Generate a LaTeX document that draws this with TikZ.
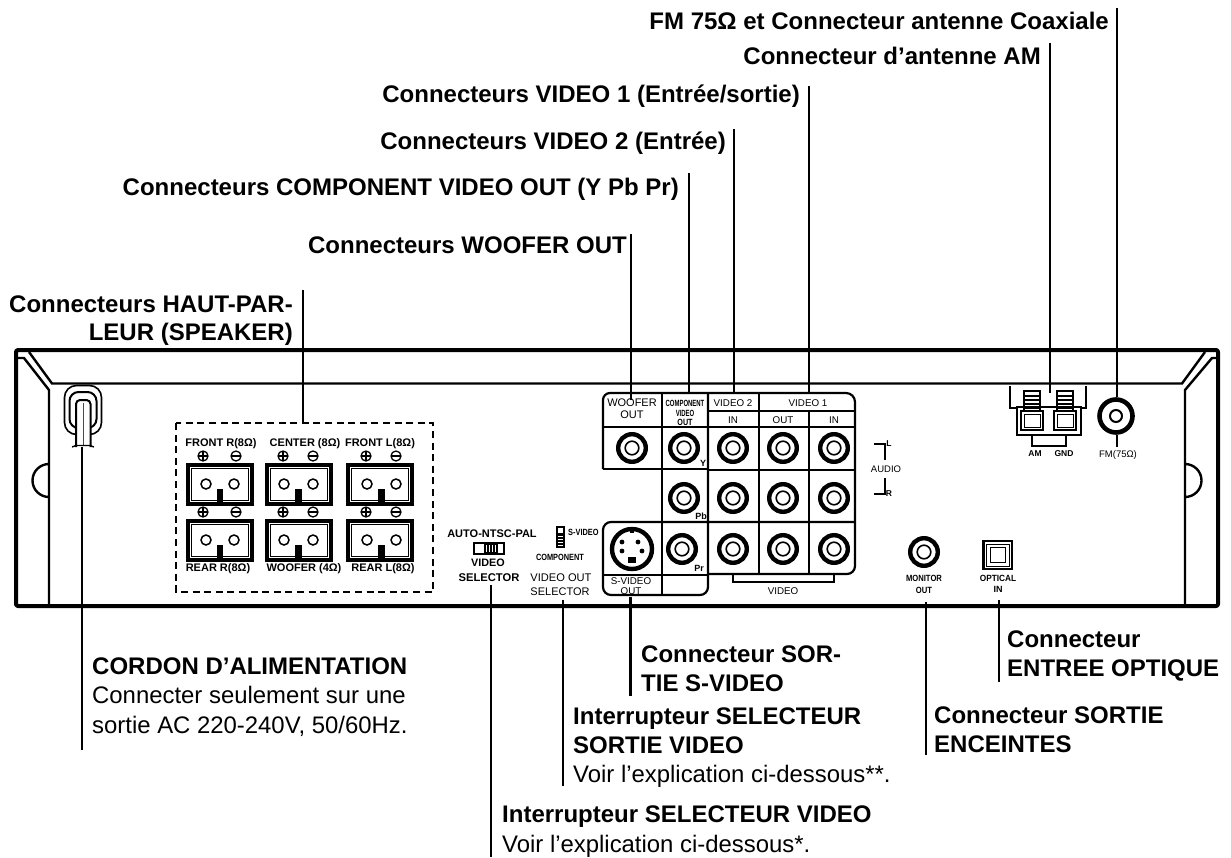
\documentclass[tikz,border=0pt]{standalone}
\usepackage{fontspec}
\setmainfont{Liberation Sans}
\usetikzlibrary{calc}
\newcommand{\bigfont}{\fontsize{24}{28}\selectfont\bfseries}
\newcommand{\regfont}{\fontsize{23.9}{28}\selectfont}
\tikzset{
  x=1pt,y=-1pt,
  wire/.style={line width=2.4pt,black},
  frame/.style={line width=4pt,black,line join=round},
  thinframe/.style={line width=2.4pt,black},
  grid/.style={line width=2.2pt,black},
  head/.style={inner sep=0pt,anchor=base west,font=\bigfont},
  heade/.style={inner sep=0pt,anchor=base east,font=\bigfont},
  body/.style={inner sep=0pt,anchor=base west,font=\regfont},
  small/.style={inner sep=0pt,anchor=center,font=\fontsize{9.8}{12}\selectfont},
  smallb/.style={inner sep=0pt,anchor=center,font=\fontsize{11}{12}\selectfont\bfseries},
  tiny/.style={inner sep=0pt,anchor=center,font=\fontsize{9}{10}\selectfont\bfseries},
  sym/.style={line width=1.3pt,black},
}
\newcommand{\jack}[2]{%
  \draw[black,line width=4.4pt] (#1,#2) circle[radius=13.8];
  \draw[black,line width=1.6pt] (#1,#2) circle[radius=6.8];
}
\newcommand{\term}[2]{% left, top
  \draw[black,line width=3.2pt] (#1,#2) rectangle ++(64,39);
  \draw[black,line width=1.4pt] ($(#1,#2)+(3.4,3.4)$) rectangle ++(57.2,32.2);
}
\newcommand{\pluss}[2]{\draw[sym] (#1,#2) circle[radius=5]; \draw[sym] (#1-5,#2)--(#1+5,#2) (#1,#2-5)--(#1,#2+5);}
\newcommand{\minuss}[2]{\draw[sym] (#1,#2) circle[radius=5]; \draw[sym] (#1-5,#2)--(#1+5,#2);}
\begin{document}
\begin{tikzpicture}
\useasboundingbox (0,0) rectangle (1231,857);
% chassis
\draw[frame,rounded corners=2pt] (16,350) rectangle (1218,606);
\draw[thinframe] (29,352) -- (52,383.5) -- (1182,383.5) -- (1205,352);
\draw[thinframe] (18,358) -- (24,358) -- (49,390) -- (49,497) arc[start angle=90,end angle=270,radius=16.5] -- (49,606);
\draw[thinframe] (1216,358) -- (1212,358) -- (1185,390) -- (1185,497) arc[start angle=90,end angle=-90,radius=16.5] -- (1185,606);
% cord grommet
\draw[black,line width=1.6pt,rounded corners=12pt] (64.5,385.5) rectangle (101.5,434.5);
\draw[black,line width=2pt,rounded corners=9pt] (69.5,392) rectangle (96.5,428);
\draw[black,fill=white,line width=2pt,rounded corners=4pt] (76,447) -- (76,400) -- (90.5,400) -- (90.5,447);
\draw[black!70,line width=1pt] (83,403) -- (83,446);
\draw[black,line width=1.4pt] (72,447) -- (76,445.5) -- (90,445.5) -- (94,447);
% speaker block
\draw[black,line width=2.6pt,dash pattern=on 7pt off 4.6pt] (176,423) rectangle (433,592);
\foreach \c/\a/\b in {188/206/234,267/284/313,348/367/396}{
  \term{\c}{465}\term{\c}{521}
  \draw[black,line width=1.5pt] (\a,484) circle[radius=5] (\b,484) circle[radius=5] (\a,540) circle[radius=5] (\b,540) circle[radius=5];
  \fill[black] ({(\a+\b)/2-3.3},489) rectangle ++(6.6,15);
  \fill[black] ({(\a+\b)/2-3.3},545) rectangle ++(6.6,15);
}
\foreach \a/\b in {203/236,283/313,366/396}{\pluss{\a}{456}\minuss{\b}{456}\pluss{\a}{512}\minuss{\b}{512}}
\node[smallb] (s1) at (221,444) {FRONT R(8Ω)};
\node[smallb] (s2) at (305,444) {CENTER (8Ω)};
\node[smallb] (s3) at (380,444) {FRONT L(8Ω)};
\node[smallb] (s4) at (218,569) {REAR R(8Ω)};
\node[smallb] (s5) at (304,569) {WOOFER (4Ω)};
\node[smallb] (s6) at (383,569) {REAR L(8Ω)};
% video selector
\node[smallb] (v1) at (492,534) {AUTO-NTSC-PAL};
\draw[black,line width=1.2pt] (474,543) rectangle (504,554);
\fill[black] (484,544) rectangle (498,553);
\foreach \x in {486.5,489.5,492.5,495.5}{\draw[white,line width=.7pt] (\x,545) -- (\x,552);}
\node[inner sep=0pt,font=\fontsize{10.8}{14}\selectfont\bfseries] (v2) at (488,563) {VIDEO};
\node[inner sep=0pt,font=\fontsize{11.2}{14}\selectfont\bfseries] (v3) at (489,578) {SELECTOR};
% video out selector
\draw[black,line width=1.2pt] (557,527) rectangle (564,547);
\fill[black] (557,533) rectangle (564,547);
\foreach \y in {536,539,542,545}{\draw[white,line width=.7pt] (558,\y) -- (563,\y);}
\node[inner sep=0pt,anchor=west,font=\fontsize{9}{10}\selectfont\bfseries] (o1) at (568,532) {\scalebox{.82}[1]{S-VIDEO}};
\node[tiny] (o2) at (560,557) {\scalebox{.82}[1]{COMPONENT}};
\node[inner sep=0pt,font=\fontsize{11.1}{13}\selectfont] (o3) at (561,578) {VIDEO OUT};
\node[inner sep=0pt,font=\fontsize{11}{13}\selectfont] (o4) at (560,592) {SELECTOR};
% connector grid
\draw[grid] (603,469) -- (603,400) arc[start angle=180,end angle=270,radius=7] -- (846,393) arc[start angle=-90,end angle=0,radius=9] -- (855,566) arc[start angle=0,end angle=90,radius=8] -- (708,574);
\draw[grid] (603,469) -- (708,469);
\draw[grid] (708,470) -- (855,470);
\draw[grid] (603,427) -- (855,427);
\draw[grid] (708,411) -- (855,411);
\draw[grid] (662,393) -- (662,595);
\draw[grid] (708,393) -- (708,587) arc[start angle=0,end angle=90,radius=8] -- (611,595) arc[start angle=90,end angle=180,radius=8] -- (603,530) arc[start angle=180,end angle=270,radius=8] -- (855,522);
\draw[grid] (603,575) -- (708,575);
\draw[grid] (759,393) -- (759,574);
\draw[grid] (809,411) -- (809,574);
\draw[grid] (733,574) -- (733,582) -- (834,582) -- (834,574);
\jack{632}{448}\jack{684}{448}\jack{733}{448}\jack{783}{448}\jack{834}{448}
\jack{684}{498}\jack{733}{498}\jack{783}{498}\jack{834}{498}
\jack{682}{549}\jack{733}{549}\jack{783}{549}\jack{834}{549}
\jack{924}{552}
% s-video socket
\draw[black,line width=4.4pt] (632,549) circle[radius=20];
\fill[black] (622,542) circle[radius=2.4] (638,542) circle[radius=2.4] (622,551) circle[radius=2.4] (642,551) circle[radius=2.4];
\fill[black] (628,557) rectangle (636,563);
\fill[black] (630,527) rectangle (634,533);
% grid labels
\node[inner sep=0pt,font=\fontsize{11}{14}\selectfont] (g1) at (632,403) {WOOFER};
\node[inner sep=0pt,font=\fontsize{11}{14}\selectfont] (g2) at (632,415) {OUT};
\node[tiny] (g3) at (685,403) {\scalebox{.66}[1]{COMPONENT}};
\node[tiny] (g4) at (685,413) {\scalebox{.66}[1]{VIDEO}};
\node[tiny] (g5) at (685,422) {\scalebox{.8}[1]{OUT}};
\node[small] (g6) at (733,403) {VIDEO 2};
\node[small] (g7) at (808,403) {VIDEO 1};
\node[small] (g8) at (733,420) {IN};
\node[small] (g9) at (783,420) {OUT};
\node[small] (g10) at (834,420) {IN};
\node[tiny] (g11) at (703,463) {Y};
\node[tiny] (g12) at (701,516) {Pb};
\node[tiny] (g13) at (699,568) {Pr};
\node[small] (g14) at (631,581) {S-VIDEO};
\node[small] (g15) at (631,591) {OUT};
\node[small] (g16) at (783,591) {VIDEO};
% audio
\draw[black,line width=1.8pt] (874,444) -- (885,444) -- (885,460);
\draw[black,line width=1.8pt] (885,478) -- (885,494) -- (874,494);
\node[inner sep=0pt,font=\fontsize{9.5}{11}\selectfont] (a1) at (886,469) {AUDIO};
\node[inner sep=0pt,font=\fontsize{8.5}{10}\selectfont\bfseries] (a2) at (889,444) {L};
\node[inner sep=0pt,font=\fontsize{8.5}{10}\selectfont\bfseries] (a3) at (889,494) {R};
% monitor, optical
\node[tiny] (m1) at (924,578) {\scalebox{.85}[1]{MONITOR}};
\node[tiny] (m2) at (924,590) {\scalebox{.85}[1]{OUT}};
\draw[black,line width=2.4pt] (983.5,541) rectangle (1012,569);
\draw[black,line width=1pt] (986.5,544) rectangle (1009,566);
\draw[black,line width=1pt] (990.5,547.5) rectangle (1005,562);
\node[tiny] (p1) at (998,578) {\scalebox{.92}[1]{OPTICAL}};
\node[tiny] (p2) at (998,589) {IN};
% AM terminal
\draw[black,line width=1.3pt] (1010,386) -- (1010,408) -- (1017,408);
\draw[black,line width=1.3pt] (1086,386) -- (1086,408) -- (1081,408);
\draw[black,line width=2.6pt] (1017,407) rectangle (1081,435);
\foreach \l in {1021,1054}{
  \draw[black,line width=2.6pt] (\l,411) rectangle ++(22,19);
  \draw[black,line width=.8pt] (\l+3,414) rectangle ++(16,13);
  \draw[black,line width=1.6pt] (\l+3,411) -- (\l+3,391) -- (\l+19,391) -- (\l+19,411);
  \foreach \y in {396,400,404,408}{\draw[black,line width=1.6pt] (\l+2,\y) -- (\l+20,\y);}
}
\draw[black,line width=1.8pt] (1032,435) -- (1032,446) -- (1066,446) -- (1066,435);
\node[inner sep=0pt,font=\fontsize{8.5}{10}\selectfont\bfseries] (t1) at (1035,454) {AM};
\node[inner sep=0pt,font=\fontsize{8.5}{10}\selectfont\bfseries] (t2) at (1064,454) {GND};
% FM
\draw[black,line width=4.6pt] (1116,416) circle[radius=16.5];
\draw[black,line width=2pt] (1116,416) circle[radius=6];
\draw[black,line width=1.8pt] (1117,435) -- (1117,447);
\node[inner sep=0pt,font=\fontsize{9.5}{11}\selectfont] (t3) at (1118,455) {FM(75Ω)};
% top labels
\node[heade] (lFM) at (1109,29) {FM 75Ω et Connecteur antenne Coaxiale};
\node[heade] (lAM) at (1041,64) {Connecteur d’antenne AM};
\node[heade] (lV1) at (800,102) {Connecteurs VIDEO 1 (Entrée/sortie)};
\node[heade] (lV2) at (726,149) {Connecteurs VIDEO 2 (Entrée)};
\node[heade] (lCO) at (679,195) {Connecteurs COMPONENT VIDEO OUT (Y Pb Pr)};
\node[heade] (lWO) at (627,253) {Connecteurs WOOFER OUT};
\node[heade] (lS1) at (293,312) {Connecteurs HAUT-PAR-};
\node[heade] (lS2) at (293,340) {LEUR (SPEAKER)};
% bottom labels
\node[head] (lC1) at (92,674) {CORDON D’ALIMENTATION};
\node[body] (lC2) at (92,703) {Connecter seulement sur une};
\node[body] (lC3) at (92,733) {sortie AC 220-240V, 50/60Hz.};
\node[head] (lT1) at (641,662) {Connecteur SOR-};
\node[head] (lT2) at (641,691) {TIE S-VIDEO};
\node[head] (lE1) at (1007,647) {Connecteur};
\node[head] (lE2) at (1007,676) {ENTREE OPTIQUE};
\node[head] (lO1) at (573,724) {Interrupteur SELECTEUR};
\node[head] (lO2) at (573,753) {SORTIE VIDEO};
\node[body] (lO3) at (573,782) {Voir l’explication ci-dessous**.};
\node[head] (lM1) at (934,723) {Connecteur SORTIE};
\node[head] (lM2) at (934,752) {ENCEINTES};
\node[head] (lI1) at (502,822) {Interrupteur SELECTEUR VIDEO};
\node[body] (lI2) at (502,852) {Voir l’explication ci-dessous*.};
% leader wires
\foreach \n/\x/\a/\b in {fm/1117/8/397,am/1050/43/393,vone/809/86/393,vtwo/734/129/393,comp/689/173/393,woof/631/234/400,spk/303/290/423,cord/82/447/750,sel/491/585/857,vout/563/600/786,svid/630.5/597/696,mon/926/602/755,opt/999/600/682}{
  \coordinate (\n a) at (\x,\a);
  \coordinate (\n b) at (\x,\b);
  \draw[wire] (\n a) -- (\n b);
}
\end{tikzpicture}
\end{document}
